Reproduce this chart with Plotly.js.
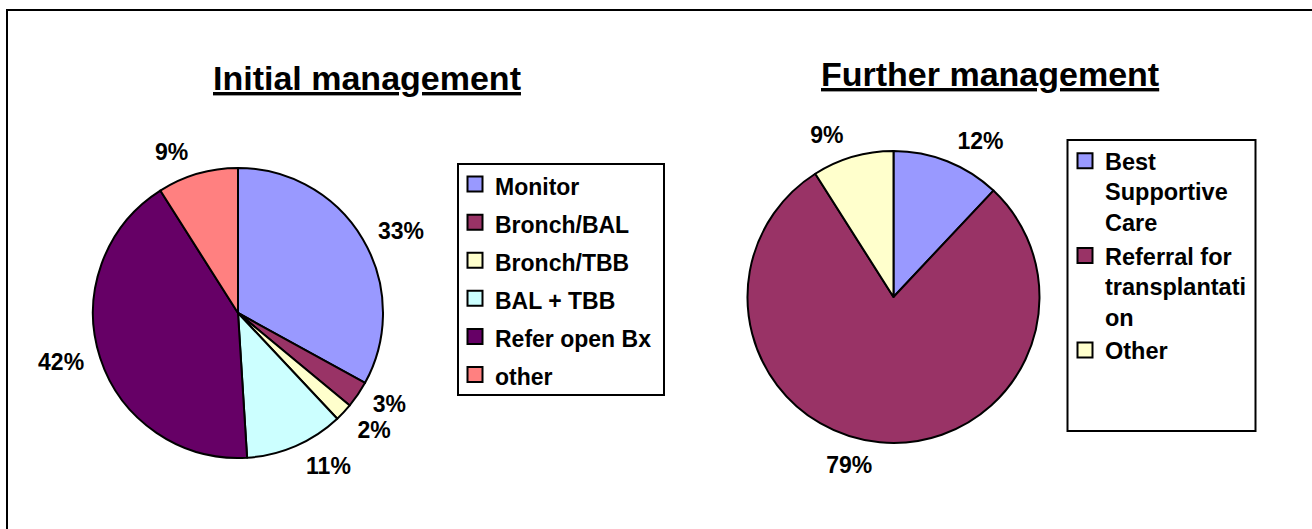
<!DOCTYPE html>
<html><head><meta charset="utf-8">
<script src="https://cdn.plot.ly/plotly-3.0.1.min.js"></script>
<style>
html,body{margin:0;padding:0;background:#fff}
#chart{width:1312px;height:529px}
#chart path.textline{display:none}
#chart path.legendpie{stroke:#000 !important;stroke-width:1.6px !important;transform:translate(20px,0) scale(1.25)}
</style>
</head><body><div id="chart"></div>
<script>
const initialCategories = ["Monitor", "Bronch/BAL", "Bronch/TBB", "BAL + TBB", "Refer open Bx", "other"];
const initialValues = [33, 3, 2, 11, 42, 9];
const initialColors = ["#9999FF", "#993366", "#FFFFCC", "#CCFFFF", "#660066", "#FF8080"];
const furtherCategories = ["Best<br>Supportive<br>Care", "Referral for<br>transplantati<br>on", "Other"];
const furtherValues = [12, 79, 9];
const furtherColors = ["#9999FF", "#993366", "#FFFFCC"];
const chartTitles = ["Initial management", "Further management"];

const W = 1312, H = 529;
const px = x => x / W, py = y => 1 - y / H;
const FONT = "Liberation Sans, Arial, sans-serif";
const lineStyle = {color: "#000", width: 2};

// pie geometry (centre and radius in pixels)
const pie1 = {cx: 238, cy: 313, r: 145, rl: 155};
const pie2 = {cx: 893.5, cy: 297, r: 146, rl: 156};
const dom = (p, r) => ({x: [px(p.cx - r), px(p.cx + r)], y: [py(p.cy + r), py(p.cy - r)]});

const pieCommon = {
  type: "pie", sort: false, direction: "clockwise", rotation: 0
};
const labelCommon = Object.assign({}, pieCommon, {
  textinfo: "percent", textposition: "outside",
  outsidetextfont: {family: FONT, size: 23, color: "#000", weight: "bold"},
  showlegend: false, hoverinfo: "skip",
  marker: {line: {width: 0}}
});

const data = [
  Object.assign({}, pieCommon, {
    labels: initialCategories.map(c => '<span style="font-size:23px">' + c + '</span>'),
    values: initialValues, textinfo: "none", hoverinfo: "label+percent",
    marker: {colors: initialColors, line: lineStyle},
    domain: dom(pie1, pie1.r), legend: "legend"
  }),
  Object.assign({}, labelCommon, {
    labels: initialCategories, values: initialValues,
    marker: {colors: initialColors.map(() => "rgba(0,0,0,0)"), line: {width: 0}},
    domain: dom(pie1, pie1.rl)
  }),
  Object.assign({}, pieCommon, {
    labels: furtherCategories,
    values: furtherValues, textinfo: "none", hoverinfo: "label+percent",
    marker: {colors: furtherColors, line: lineStyle},
    domain: dom(pie2, pie2.r), legend: "legend2"
  }),
  Object.assign({}, labelCommon, {
    labels: furtherCategories, values: furtherValues,
    marker: {colors: furtherColors.map(() => "rgba(0,0,0,0)"), line: {width: 0}},
    domain: dom(pie2, pie2.rl)
  })
];

const layout = {
  width: W, height: H,
  margin: {l: 0, r: 0, t: 0, b: 0},
  paper_bgcolor: "#fff", plot_bgcolor: "#fff",
  font: {family: FONT, color: "#000"},
  showlegend: true,
  legend: {
    x: px(455), y: py(160), xanchor: "left", yanchor: "top",
    font: {family: FONT, size: 27, color: "#000", weight: "bold"},
    bgcolor: "rgba(0,0,0,0)", borderwidth: 0, traceorder: "normal"
  },
  legend2: {
    x: px(1065), y: py(139), xanchor: "left", yanchor: "top", valign: "top",
    font: {family: FONT, size: 23.5, color: "#000", weight: "bold"},
    bgcolor: "rgba(0,0,0,0)", borderwidth: 0, traceorder: "normal"
  },
  shapes: [
    {type: "rect", xref: "paper", yref: "paper", x0: px(7), x1: 1.02, y0: -0.05, y1: py(10), line: lineStyle},
    {type: "rect", xref: "paper", yref: "paper", x0: px(458), x1: px(664), y0: py(395), y1: py(164), line: lineStyle},
    {type: "rect", xref: "paper", yref: "paper", x0: px(1067.5), x1: px(1255.5), y0: py(431), y1: py(140), line: lineStyle}
  ],
  annotations: [
    {text: "<u>" + chartTitles[0] + "</u>", x: px(366.5), y: py(78), xref: "paper", yref: "paper",
     xanchor: "center", yanchor: "middle", showarrow: false,
     font: {family: FONT, size: 34, color: "#000", weight: "bold"}},
    {text: "<u>" + chartTitles[1] + "</u>", x: px(990), y: py(73.5), xref: "paper", yref: "paper",
     xanchor: "center", yanchor: "middle", showarrow: false,
     font: {family: FONT, size: 34, color: "#000", weight: "bold"}}
  ]
};

Plotly.newPlot("chart", data, layout, {displayModeBar: false, staticPlot: true});
</script>
</body></html>
